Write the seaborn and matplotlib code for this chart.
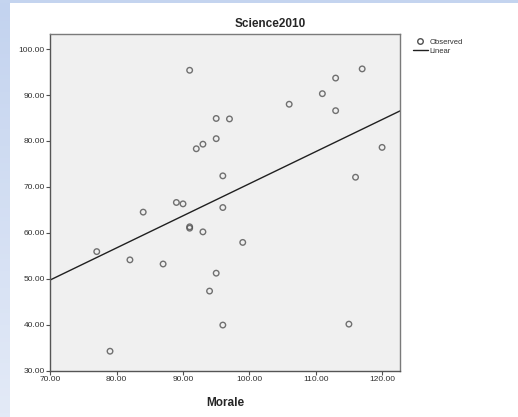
import numpy as np
import pandas as pd
import matplotlib
matplotlib.use("Agg")
import matplotlib.pyplot as plt
import seaborn as sns
from matplotlib.patches import Rectangle
from matplotlib.lines import Line2D

# Morale vs Science2010
morale = [91, 95, 97, 95, 93, 92, 106, 117, 113, 111, 113, 120, 84, 77, 82,
          87, 96, 89, 90, 96, 91, 91, 93, 99, 116, 79, 95, 94, 96, 115]
science = [95.4, 84.9, 84.8, 80.5, 79.3, 78.3, 88.0, 95.7, 93.7, 90.3, 86.6,
           78.6, 64.5, 55.9, 54.1, 53.2, 72.4, 66.6, 66.3, 65.5, 61.3, 61.0,
           60.2, 57.9, 72.1, 34.2, 51.2, 47.3, 39.9, 40.1]
x_ticks = [70, 80, 90, 100, 110, 120]
y_ticks = [30, 40, 50, 60, 70, 80, 90, 100]

df = pd.DataFrame({"Morale": morale, "Science2010": science})

sns.set_style("white")
plt.rcParams['font.family'] = ['Liberation Sans', 'DejaVu Sans']

fig = plt.figure(figsize=(5.18, 4.17), dpi=100)
fig.patch.set_facecolor("white")

# slide background strips (blue band on top and a gradient on the left)
fig.patches.append(Rectangle((0, 1 - 3 / 417), 1, 3 / 417, transform=fig.transFigure,
                             facecolor="#c4d4ef", edgecolor="none", zorder=0))
bg = fig.add_axes([0, 0, 10 / 518, 1])
grad = np.linspace(0, 1, 100).reshape(-1, 1)
bg.imshow(grad, aspect="auto", cmap=matplotlib.colors.LinearSegmentedColormap.from_list(
    "band", ["#c3d3ef", "#e3eaf7"]), extent=[0, 1, 0, 1])
bg.axis("off")

ax = fig.add_axes([50.3 / 518, 1 - 370.5 / 417, (400 - 50.3) / 518, (370.5 - 34) / 417])
ax.set_facecolor("#f0f0f0")
ax.set_xlim(70, 122.7)
ax.set_ylim(30, 103.3)

marker_kw = dict(facecolors="none", edgecolors="#505050", linewidths=1.0)
line_color = "#202020"
sns.regplot(data=df, x="Morale", y="Science2010", ax=ax, ci=None, truncate=False,
            scatter_kws=dict(s=16, **marker_kw),
            line_kws=dict(color=line_color, lw=1.0))

ax.set_xlim(70, 122.7)
ax.set_ylim(30, 103.3)
ax.set_xticks(x_ticks)
ax.set_yticks(y_ticks)
ax.set_xticklabels([f"{v:.2f}" for v in x_ticks])
ax.set_yticklabels([f"{v:.2f}" for v in y_ticks])
ax.tick_params(axis="both", direction="out", length=3, width=0.8, color="#505050",
               labelsize=6, labelcolor="#303030", pad=1)
ax.tick_params(bottom=True, left=True)
for side, sp in ax.spines.items():
    sp.set_visible(True)
    sp.set_color("#7a7a7a" if side in ("top", "right") else "#555555")
    sp.set_linewidth(1.0)

ax.set_xlabel("Morale", fontsize=8.5, fontweight="bold", labelpad=10)
ax.set_ylabel("")
fig.text(270 / 518, 1 - 24 / 417, "Science2010", ha="center", va="center",
         fontsize=8.5, fontweight="bold")

handles = [
    Line2D([], [], ls="none", marker="o", markersize=4, markerfacecolor="none",
           markeredgecolor="#505050", markeredgewidth=1.0, label="Observed"),
    Line2D([], [], color=line_color, lw=1.0, label="Linear"),
]
ax.legend(handles=handles, loc="upper left", bbox_to_anchor=(409 / 518, 1 - 35 / 417),
          bbox_transform=fig.transFigure, frameon=False, fontsize=5.5,
          handlelength=2.0, handletextpad=0.2, labelspacing=0.15, borderpad=0,
          labelcolor="#303030")

fig.savefig("out.png", dpi=100)
